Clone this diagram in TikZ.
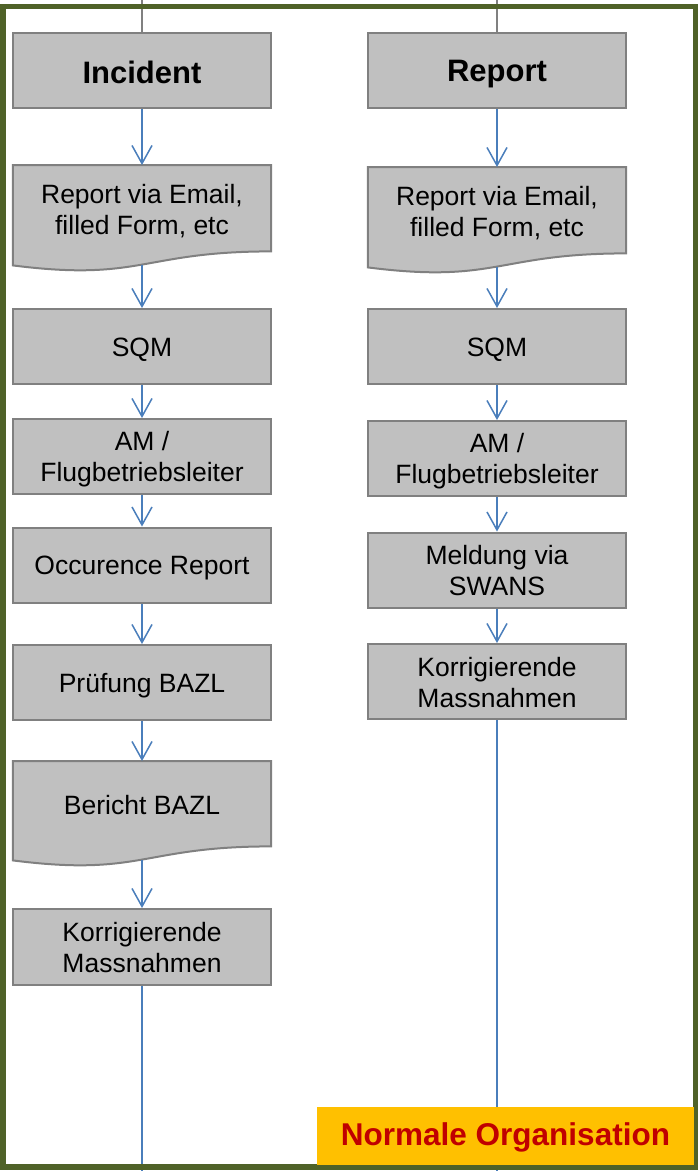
\documentclass[tikz,border=0pt]{standalone}
\usepackage{fontspec}
\setmainfont{Liberation Sans}
\usetikzlibrary{arrows.meta,calc,backgrounds}
\definecolor{framegreen}{HTML}{4F6228}
\definecolor{boxfill}{HTML}{C0C0C0}
\definecolor{boxline}{HTML}{808080}
\definecolor{flowblue}{HTML}{4A7EBB}
\definecolor{labelfill}{HTML}{FFC000}
\definecolor{labeltext}{HTML}{C00000}
\newcommand{\tstrut}{\vrule height 25pt depth 4.4pt width 0pt}
\newcommand{\hstrut}{\vrule height 28pt depth 3pt width 0pt}
\newcommand{\lstrut}{\vrule height 25pt depth 5pt width 0pt}
\tikzset{
  procbox/.style={rectangle, fill=boxfill, draw=boxline, line width=2pt,
    minimum width=258pt, minimum height=75pt, inner sep=0pt, align=center,
    font=\fontsize{26.5}{31}\selectfont},
  headbox/.style={procbox, font=\fontsize{31}{36}\selectfont\bfseries},
  docnode/.style={rectangle, draw=none, minimum width=258pt, minimum height=86pt,
    inner sep=0pt, align=center, anchor=north, font=\fontsize{26.5}{31}\selectfont},
  docshape/.style={fill=boxfill, draw=boxline, line width=2pt, line join=miter},
  flow/.style={draw=flowblue, line width=1.5pt,
    -{Straight Barb[length=18pt,width=20pt,line width=1.5pt]}},
  flowend/.style={draw=flowblue, line width=1.5pt},
  topline/.style={draw=boxline, line width=1.5pt},
  outerframe/.style={draw=framegreen, line width=5.5pt},
  orglabel/.style={rectangle, fill=labelfill, minimum width=377pt, minimum height=58pt,
    inner sep=0pt, text=labeltext, font=\fontsize{31.5}{36}\selectfont\bfseries}
}
\newcommand{\docbottom}[1]{%
  \begin{pgfonlayer}{background}
  \draw[docshape] (#1.north west) -- (#1.north east) -- (#1.south east)
    .. controls (#1.south) and ($(#1.south)+(0,30.5)$) .. ($(#1.south west)+(0,14)$) -- cycle;
  \end{pgfonlayer}
  \coordinate (#1b) at ($(#1.south)+(0,14)$);
}
\begin{document}
\begin{tikzpicture}[x=1pt,y=-1pt]
\useasboundingbox (0,0) rectangle (698,1171);

% left column
\node[headbox] (inc) at (142,70.5) {\hstrut Incident};
\node[docnode] (da) at (142,165) {\tstrut Report via Email,\\\tstrut filled Form, etc};
\docbottom{da}
\node[procbox] (sqma) at (142,346.5) {\tstrut SQM};
\node[procbox] (ama) at (142,456.5) {\tstrut AM /\\\tstrut Flugbetriebsleiter};
\node[procbox] (occ) at (142,565) {\tstrut Occurence Report};
\node[procbox] (pruf) at (142,682.5) {\tstrut Prüfung BAZL};
\node[docnode, minimum height=85pt] (ber) at (142,761) {\tstrut Bericht BAZL};
\docbottom{ber}
\node[procbox, minimum height=76pt] (kora) at (142,947) {\tstrut Korrigierende\\\tstrut Massnahmen};

% right column
\node[headbox] (rep) at (497,70.5) {\hstrut Report};
\node[docnode] (db) at (497,167) {\tstrut Report via Email,\\\tstrut filled Form, etc};
\docbottom{db}
\node[procbox] (sqmb) at (497,346.5) {\tstrut SQM};
\node[procbox] (amb) at (497,458.5) {\tstrut AM /\\\tstrut Flugbetriebsleiter};
\node[procbox] (mel) at (497,570) {\tstrut Meldung via\\\tstrut SWANS};
\node[procbox] (korb) at (497,681.5) {\tstrut Korrigierende\\\tstrut Massnahmen};

% incoming lines at the top
\coordinate (topa) at (142,0);
\coordinate (topb) at (497,0);
\draw[topline] (topa) -- (inc);
\draw[topline] (topb) -- (rep);

% left flow
\draw[flow] (inc) -- (da);
\draw[flow] (dab) -- (sqma);
\draw[flow] (sqma) -- (ama);
\draw[flow] (ama) -- (occ);
\draw[flow] (occ) -- (pruf);
\draw[flow] (pruf) -- (ber);
\draw[flow] (berb) -- (kora);
\coordinate (enda) at (142,1171);
\draw[flowend] (kora) -- (enda);

% right flow
\draw[flow] (rep) -- (db);
\draw[flow] (dbb) -- (sqmb);
\draw[flow] (sqmb) -- (amb);
\draw[flow] (amb) -- (mel);
\draw[flow] (mel) -- (korb);
\coordinate (endb) at (497,1171);
\draw[flowend] (korb) -- (endb);

% outer frame
\draw[outerframe] (2.75,6.5) rectangle (695.25,1167);

% label
\node[orglabel] (org) at (505.5,1136) {\lstrut Normale Organisation};
\end{tikzpicture}
\end{document}
